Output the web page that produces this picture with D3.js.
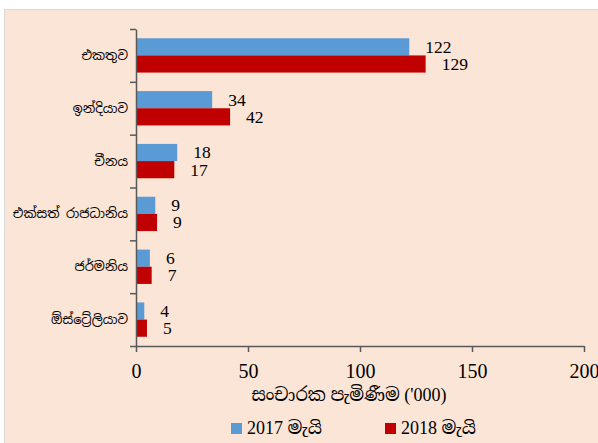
<!DOCTYPE html>
<html>
<head>
<meta charset="utf-8">
<script src="https://cdn.jsdelivr.net/npm/d3@7"></script>
<style>
  html, body { margin: 0; padding: 0; background: #ffffff; }
  svg { display: block; }
</style>
</head>
<body>
<svg id="chart" width="598" height="443"></svg>
<script>
const categories = ["එකතුව", "ඉන්දියාව", "චීනය", "එක්සත් රාජධානිය", "ජර්මනිය", "ඕස්ට්‍රේලියාව"];
const seriesNames = ["2017 මැයි", "2018 මැයි"];
const values2017 = [122, 34, 18.4, 8.6, 6.2, 3.7];
const values2018 = [129.3, 42, 17.1, 9.4, 7.0, 4.9];
const xTicks = [0, 50, 100, 150, 200];
const axisTitle = "සංචාරක පැමිණීම ('000)";
const colors = ["#5B9BD5", "#C00000"];

const sinhalaFont = "'Iskoola Pota', 'Noto Sans Sinhala', 'Noto Serif Sinhala', 'Noto Sans', 'DejaVu Sans', sans-serif";
const serifFont = "'Liberation Serif', 'DejaVu Serif', serif";
const mixedFont = "'Liberation Serif', 'Iskoola Pota', 'Noto Serif Sinhala', 'Noto Sans Sinhala', serif";

const svg = d3.select("#chart");

// panel background
svg.append("rect")
  .attr("x", 4.5).attr("y", 9.5)
  .attr("width", 600).attr("height", 440)
  .attr("fill", "#FBE5D6")
  .attr("stroke", "#D9D9D9").attr("stroke-width", 1);

const x = d3.scaleLinear().domain([0, 200]).range([136, 584]);
const y = d3.scaleBand().domain(categories).range([29, 346])
  .paddingInner(0.35).paddingOuter(0.175);
const ySub = d3.scaleBand().domain(seriesNames).range([0, y.bandwidth()]);

const rows = categories.map((c, i) => ({ cat: c, vals: [values2017[i], values2018[i]] }));

// bars and value labels
const g = svg.append("g");
rows.forEach(r => {
  r.vals.forEach((v, j) => {
    g.append("rect")
      .attr("x", x(0))
      .attr("y", y(r.cat) + ySub(seriesNames[j]))
      .attr("width", x(v) - x(0))
      .attr("height", ySub.bandwidth())
      .attr("fill", colors[j]);
    g.append("text")
      .attr("x", x(v) + 16)
      .attr("y", y(r.cat) + ySub(seriesNames[j]) + ySub.bandwidth() / 2)
      .attr("dy", "0.34em")
      .attr("font-family", serifFont)
      .attr("font-size", 17.5)
      .attr("fill", "#000")
      .text(d3.format(".0f")(v));
  });
});

// y axis with ticks at category boundaries
const yBound = d3.scaleLinear().domain([0, categories.length]).range([29, 346]);
const yAxis = svg.append("g")
  .attr("transform", `translate(${x(0)},0)`)
  .call(d3.axisLeft(yBound).tickValues(d3.range(0, categories.length + 1)).tickSize(6).tickSizeOuter(0).tickFormat(""));
yAxis.select(".domain").attr("stroke", "#595959").attr("stroke-width", 1.5);
yAxis.selectAll(".tick line").attr("stroke", "#595959").attr("stroke-width", 1.5);

// category labels
svg.append("g").selectAll("text").data(categories).join("text")
  .attr("x", 128)
  .attr("y", d => y(d) + y.bandwidth() / 2)
  .attr("dy", "0.35em")
  .attr("text-anchor", "end")
  .attr("font-family", sinhalaFont)
  .attr("font-size", 13)
  .attr("fill", "#000")
  .text(d => d);

// x axis
const xAxis = svg.append("g")
  .attr("transform", "translate(0,346)")
  .call(d3.axisBottom(x).tickValues(xTicks).tickSize(6).tickSizeOuter(0).tickPadding(12));
xAxis.select(".domain").attr("stroke", "#595959").attr("stroke-width", 1.5);
xAxis.selectAll(".tick line").attr("stroke", "#595959").attr("stroke-width", 1.5);
xAxis.selectAll(".tick text")
  .attr("font-family", serifFont)
  .attr("font-size", 20)
  .attr("fill", "#000");

// axis title
svg.append("text")
  .attr("x", 349).attr("y", 401)
  .attr("text-anchor", "middle")
  .attr("font-family", mixedFont)
  .attr("font-size", 18)
  .attr("fill", "#000")
  .text(axisTitle);

// legend
const legendX = [231, 385];
seriesNames.forEach((s, j) => {
  svg.append("rect")
    .attr("x", legendX[j]).attr("y", 423)
    .attr("width", 11).attr("height", 11)
    .attr("fill", colors[j]);
  svg.append("text")
    .attr("x", legendX[j] + 16).attr("y", 434)
    .attr("font-family", mixedFont)
    .attr("font-size", 18)
    .attr("fill", "#000")
    .text(s);
});
</script>
</body>
</html>
